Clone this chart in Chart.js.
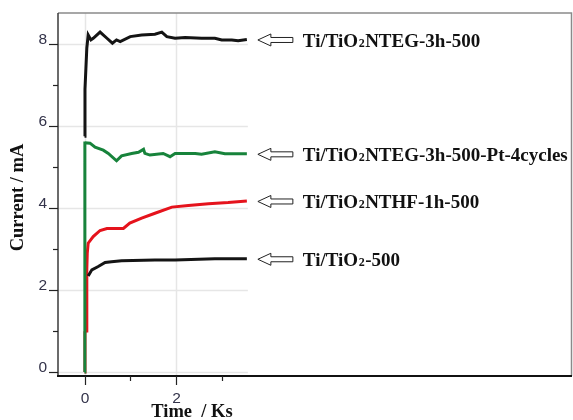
<!DOCTYPE html>
<html>
<head>
<meta charset="utf-8">
<script src="https://cdn.jsdelivr.net/npm/chart.js@4/dist/chart.umd.min.js"></script>
<style>
html,body{margin:0;padding:0;background:#fff;}
#wrap{width:573px;height:420px;position:relative;}
</style>
</head>
<body>
<div id="wrap"><canvas id="c" width="573" height="420"></canvas></div>
<script>
// Time (Ks) and current (mA)
const tEG3h   = [0, 0.01, 0.03, 0.05, 0.08, 0.14, 0.19, 0.34, 0.49, 0.61, 0.70, 0.78, 1.00, 1.25, 1.54, 1.69, 1.80, 1.98, 2.20, 2.56, 2.85, 3.00, 3.22, 3.36, 3.55];
const iEG3h   = [5.75, 6.9, 7.4, 7.9, 8.22, 8.10, 8.14, 8.29, 8.14, 8.02, 8.10, 8.06, 8.18, 8.22, 8.24, 8.29, 8.18, 8.14, 8.16, 8.14, 8.14, 8.10, 8.10, 8.08, 8.11];

const tEGPt   = [0, 0.005, 0.01, 0.12, 0.23, 0.41, 0.52, 0.70, 0.81, 1.03, 1.18, 1.29, 1.32, 1.43, 1.72, 1.87, 1.98, 2.42, 2.56, 2.85, 3.07, 3.55];
const iEGPt   = [0, 5.62, 5.59, 5.58, 5.48, 5.41, 5.33, 5.15, 5.27, 5.33, 5.36, 5.43, 5.33, 5.29, 5.33, 5.25, 5.33, 5.33, 5.31, 5.37, 5.32, 5.32];

const tHF1h   = [0, 0.01, 0.04, 0.05, 0.06, 0.08, 0.19, 0.34, 0.49, 0.85, 0.99, 1.25, 1.54, 1.91, 2.27, 2.71, 3.14, 3.55];
const iHF1h   = [0, 0.97, 1.00, 2.50, 2.90, 3.14, 3.30, 3.45, 3.50, 3.50, 3.63, 3.75, 3.87, 4.02, 4.06, 4.10, 4.13, 4.17];

const tTiO2   = [0.08, 0.16, 0.30, 0.45, 0.59, 0.81, 1.54, 1.98, 2.85, 3.55];
const iTiO2   = [2.34, 2.49, 2.57, 2.67, 2.69, 2.71, 2.73, 2.73, 2.76, 2.76];

const seriesNames = ["Ti/TiO\u2082NTEG-3h-500", "Ti/TiO\u2082NTEG-3h-500-Pt-4cycles", "Ti/TiO\u2082NTHF-1h-500", "Ti/TiO\u2082-500"];
const seriesColors = ["#141414", "#17833b", "#e5131c", "#141414"];

const xTicks = [0, 2];
const xMinorTicks = [1, 3];
const yTicks = [0, 2, 4, 6, 8];
const yMinorTicks = [1, 3, 5, 7];
const xTitle = "Time  / Ks";
const yTitle = "Current / mA";

const toPts = (t, v) => t.map((x, i) => ({x: x, y: v[i]}));
const seriesData = [toPts(tEG3h, iEG3h), toPts(tEGPt, iEGPt), toPts(tHF1h, iHF1h), toPts(tTiO2, iTiO2)];

// draw order: black bottom, black top, green, red on top
const order = [3, 0, 1, 2];
const datasets = order.map(k => ({
  label: seriesNames[k],
  data: seriesData[k],
  borderColor: seriesColors[k],
  backgroundColor: seriesColors[k],
  borderWidth: 3,
  pointRadius: 0,
  tension: 0,
  fill: false
}));

const tEnd = Math.max(...[tEG3h, tEGPt, tHF1h, tTiO2].map(a => a[a.length - 1]));

function drawArrow(ctx, tipX, y) {
  ctx.save();
  ctx.beginPath();
  ctx.moveTo(tipX, y);
  ctx.lineTo(tipX + 13, y - 6);
  ctx.lineTo(tipX + 13, y - 2.5);
  ctx.lineTo(tipX + 35, y - 2.5);
  ctx.lineTo(tipX + 35, y + 2.5);
  ctx.lineTo(tipX + 13, y + 2.5);
  ctx.lineTo(tipX + 13, y + 6);
  ctx.closePath();
  ctx.fillStyle = "#fff";
  ctx.fill();
  ctx.strokeStyle = "#222";
  ctx.lineWidth = 1;
  ctx.stroke();
  ctx.restore();
}

const MAIN_FONT = "bold 19px 'Liberation Serif', 'Times New Roman', serif";
const SUB_FONT = "bold 12px 'Liberation Serif', 'Times New Roman', serif";
function drawRich(ctx, text, x0, base) {
  const parts = text.split("\u2082");
  let cx = x0;
  parts.forEach((p, i) => {
    ctx.font = MAIN_FONT;
    ctx.fillText(p, cx, base);
    cx += ctx.measureText(p).width;
    if (i < parts.length - 1) {
      ctx.font = SUB_FONT;
      ctx.fillText("2", cx + 0.5, base);
      cx += ctx.measureText("2").width + 1;
    }
  });
}

const decor = {
  id: 'decor',
  beforeDatasetsDraw(chart) {
    const {ctx, chartArea: a, scales: {x, y}} = chart;
    ctx.save();
    ctx.strokeStyle = "#e6e6e6";
    ctx.lineWidth = 1.5;
    const gx = x.getPixelForValue(tEnd) + 1;
    yTicks.forEach(v => {
      const py = Math.round(y.getPixelForValue(v)) + 0.5;
      ctx.beginPath(); ctx.moveTo(a.left, py); ctx.lineTo(gx, py); ctx.stroke();
    });
    xTicks.forEach(v => {
      const px = Math.round(x.getPixelForValue(v)) + 0.5;
      ctx.beginPath(); ctx.moveTo(px, a.top); ctx.lineTo(px, a.bottom); ctx.stroke();
    });
    ctx.restore();
  },
  afterDatasetsDraw(chart) {
    const {ctx, chartArea: a, scales: {x, y}} = chart;
    ctx.save();
    // frame
    ctx.lineWidth = 1.5;
    ctx.strokeStyle = "#8a8a8a";
    ctx.beginPath(); ctx.moveTo(a.left, a.top); ctx.lineTo(a.right - 0.5, a.top); ctx.lineTo(a.right - 0.5, a.bottom); ctx.stroke();
    ctx.strokeStyle = "#3a3a3a";
    ctx.beginPath(); ctx.moveTo(a.left, a.top); ctx.lineTo(a.left, a.bottom); ctx.stroke();
    ctx.strokeStyle = "#111";
    ctx.lineWidth = 2;
    ctx.beginPath(); ctx.moveTo(a.left - 1, a.bottom); ctx.lineTo(a.right, a.bottom); ctx.stroke();
    // tick marks
    ctx.lineWidth = 1.2;
    ctx.strokeStyle = "#222";
    yTicks.forEach(v => { const py = Math.round(y.getPixelForValue(v)) + 0.5; ctx.beginPath(); ctx.moveTo(a.left - 9, py); ctx.lineTo(a.left, py); ctx.stroke(); });
    yMinorTicks.forEach(v => { const py = Math.round(y.getPixelForValue(v)) + 0.5; ctx.beginPath(); ctx.moveTo(a.left - 5, py); ctx.lineTo(a.left, py); ctx.stroke(); });
    xTicks.forEach(v => { const px = Math.round(x.getPixelForValue(v)) + 0.5; ctx.beginPath(); ctx.moveTo(px, a.bottom); ctx.lineTo(px, a.bottom + 9); ctx.stroke(); });
    xMinorTicks.forEach(v => { const px = Math.round(x.getPixelForValue(v)) + 0.5; ctx.beginPath(); ctx.moveTo(px, a.bottom); ctx.lineTo(px, a.bottom + 5); ctx.stroke(); });

    // tick labels
    ctx.fillStyle = "#33334a";
    ctx.font = "15.5px 'Liberation Sans', Arial, sans-serif";
    ctx.textBaseline = "alphabetic";
    ctx.textAlign = "right";
    yTicks.forEach(v => ctx.fillText(String(v), a.left - 11, y.getPixelForValue(v) + 0.5));
    ctx.textAlign = "center";
    xTicks.forEach(v => ctx.fillText(String(v), x.getPixelForValue(v) + 0.5, 402.5));

    // arrows + labels
    ctx.fillStyle = "#111";
    ctx.textBaseline = "alphabetic";
    ctx.textAlign = "left";
    seriesData.forEach((pts, k) => {
      const last = pts[pts.length - 1];
      const py = y.getPixelForValue(last.y);
      const tip = x.getPixelForValue(last.x) + 11;
      drawArrow(ctx, tip, py + 0.5);
      drawRich(ctx, seriesNames[k], tip + 45, py + 7.5);
    });

    // axis titles
    ctx.font = "bold 18.5px 'Liberation Serif', 'Times New Roman', serif";
    ctx.textAlign = "center";
    ctx.textBaseline = "middle";
    ctx.fillText(xTitle, x.getPixelForValue(2.35), 412.5);
    ctx.translate(18, (a.top + a.bottom) / 2 + 3);
    ctx.rotate(-Math.PI / 2);
    ctx.fillText(yTitle, 0, 0);
    ctx.restore();
  }
};

new Chart(document.getElementById('c'), {
  type: 'line',
  data: { datasets: datasets },
  options: {
    responsive: false,
    animation: false,
    layout: { padding: { top: 13, right: 1, left: 0, bottom: 0 } },
    plugins: { legend: { display: false }, tooltip: { enabled: false } },
    scales: {
      x: {
        type: 'linear',
        min: -0.58, max: 10.66,
        afterBuildTicks: s => { s.ticks = xTicks.map(v => ({value: v})); },
        afterFit: s => { s.height = 44; },
        grid: { display: false },
        border: { display: false },
        ticks: { display: false }
      },
      y: {
        type: 'linear',
        min: -0.1, max: 8.756,
        afterBuildTicks: s => { s.ticks = yTicks.map(v => ({value: v})); },
        afterFit: s => { s.width = 58; },
        grid: { display: false },
        border: { display: false },
        ticks: { display: false }
      }
    }
  },
  plugins: [decor]
});
</script>
</body>
</html>
